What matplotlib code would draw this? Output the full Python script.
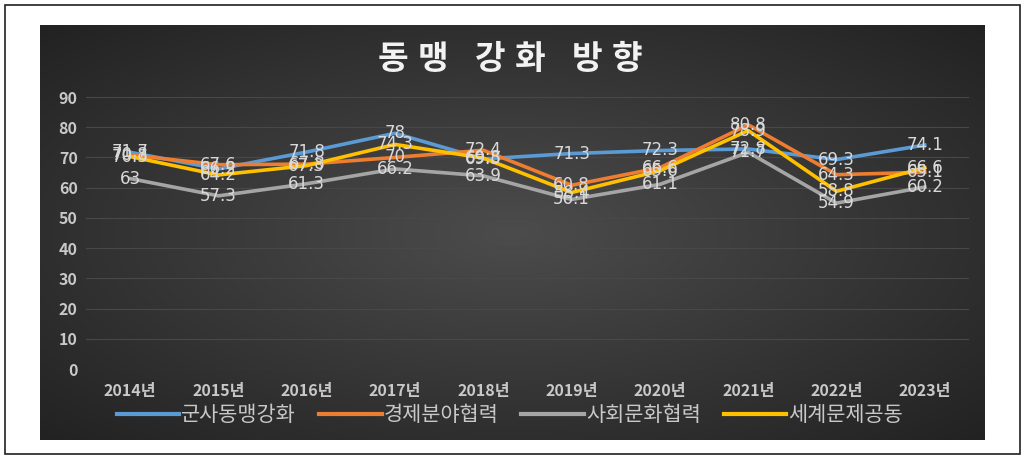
import numpy as np
import matplotlib
matplotlib.use("Agg")
import matplotlib.pyplot as plt
from matplotlib.patches import Rectangle

plt.rcParams['font.family'] = ['Noto Sans CJK KR', 'DejaVu Sans']

years = ['2014년', '2015년', '2016년', '2017년', '2018년', '2019년', '2020년', '2021년', '2022년', '2023년']
series_names = ['군사동맹강화', '경제분야협력', '사회문화협력', '세계문제공동']
military = [71.7, 66.2, 71.8, 78, 69.5, 71.3, 72.3, 72.8, 69.3, 74.1]
economy = [70.8, 67.6, 67.8, 70, 72.4, 60.8, 66.6, 80.8, 64.3, 65.1]
social = [63, 57.3, 61.3, 66.2, 63.9, 56.1, 61.1, 71.7, 54.9, 60.2]
global_issue = [70.3, 64.2, 67.3, 74.3, 69.8, 58.4, 65.6, 78.9, 58.8, 66.6]
yticks = [0, 10, 20, 30, 40, 50, 60, 70, 80, 90]
title = '동맹 강화 방향'

colors = ['#5b9bd5', '#ed7d31', '#a5a5a5', '#ffc000']
data = [military, economy, social, global_issue]

W, H = 1024, 459
fig = plt.figure(figsize=(W / 100, H / 100), dpi=100)
fig.patch.set_facecolor('white')

# outer frame
bg = fig.add_axes([0, 0, 1, 1])
bg.set_xlim(0, W)
bg.set_ylim(H, 0)
bg.axis('off')
bg.add_patch(Rectangle((5, 5), 1015, 449, fill=False, edgecolor='#202020', lw=1.2))

# dark radial gradient panel
px0, px1, py0, py1 = 40, 985, 25, 440
nx, ny = 400, 200
xx, yy = np.meshgrid(np.linspace(-1, 1, nx), np.linspace(-1, 1, ny))
r = np.clip(np.sqrt(xx ** 2 + yy ** 2) / 1.414, 0, 1)
c0 = np.array([0x4c, 0x4c, 0x4c]) / 255
c1 = np.array([0x22, 0x22, 0x22]) / 255
img = c0[None, None, :] * (1 - r[..., None]) + c1[None, None, :] * r[..., None]
bg.imshow(img, extent=(px0, px1, py1, py0), aspect='auto', zorder=1)

# title, drawn with slightly wide letter spacing
pos = 393.0
for ch in title:
    if ch == ' ':
        pos += 17
        continue
    bg.text(pos, 60, ch, color='#f2f2f2', fontsize=24, fontweight='bold',
            ha='center', va='center', zorder=3)
    pos += 40

ax = fig.add_axes([86 / W, (H - 369) / H, (969 - 86) / W, (369 - 97) / H])
ax.set_facecolor('none')
x = np.arange(len(years))
for vals, c, name in zip(data, colors, series_names):
    ax.plot(x, vals, color=c, lw=2.6, label=name, zorder=3, solid_joinstyle='round')
for vals in data:
    for xi, v in zip(x, vals):
        ax.text(xi, v, f'{v:g}', color='#d9d9d9', fontsize=12, ha='center',
                va='center', zorder=5, family=['DejaVu Sans'])

ax.set_xlim(-0.5, len(years) - 0.5)
ax.set_ylim(0, 90)
ax.set_yticks(yticks)
ax.set_xticks(x)
ax.set_xticklabels(years)
ax.tick_params(axis='both', length=0, colors='#c8c8c8', labelsize=11.5)
ax.tick_params(axis='y', pad=6)
ax.tick_params(axis='x', pad=10)
for lab in ax.get_xticklabels() + ax.get_yticklabels():
    lab.set_fontweight('bold')
ax.grid(axis='y', color='#484848', lw=0.8)
ax.set_axisbelow(True)
for s in ax.spines.values():
    s.set_visible(False)

leg = ax.legend(loc='center', bbox_to_anchor=(0.48, -0.17), ncol=4, frameon=False,
                fontsize=15, handlelength=3.0, handletextpad=0.1, columnspacing=1.1)
for t in leg.get_texts():
    t.set_color('#c8c8c8')
for l in leg.get_lines():
    l.set_linewidth(3)

fig.savefig('out.png', dpi=100, facecolor='white')
